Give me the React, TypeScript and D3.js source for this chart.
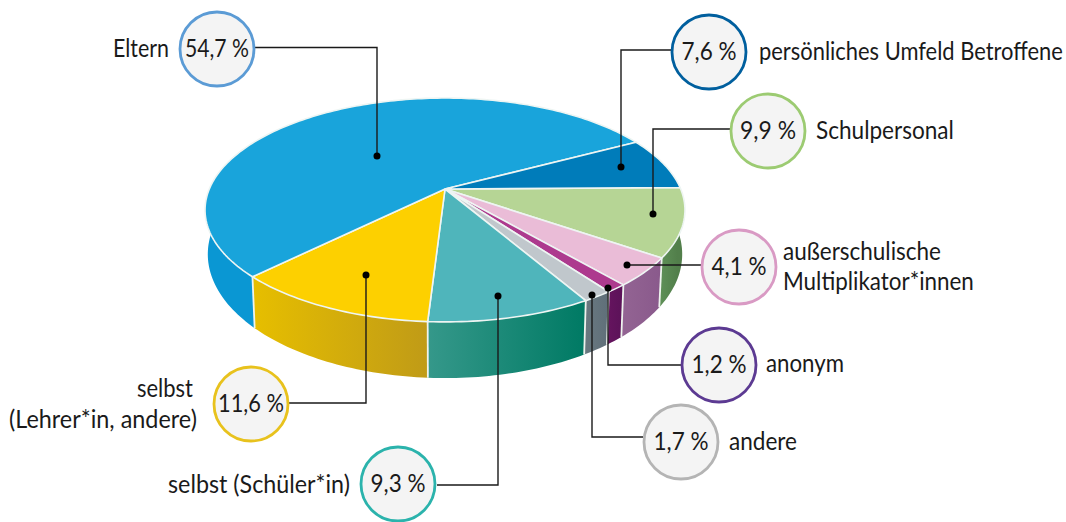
import React from 'react';
import * as d3 from 'd3';

// slices in clockwise order, first one starts at 3 o'clock
const categories = ['Schulpersonal', 'außerschulische Multiplikator*innen', 'anonym', 'andere', 'selbst (Schüler*in)', 'selbst (Lehrer*in, andere)', 'Eltern', 'persönliches Umfeld Betroffene'];
const shares = [9.9, 4.1, 1.2, 1.7, 9.3, 11.6, 54.7, 7.6];
const topColors = ['#b6d595', '#eabcd7', '#ad3a8e', '#c0c7cc', '#4fb5bb', '#fdd000', '#19a4db', '#007cba'];
const sideFrom = ['#5f9158', '#936493', '#66145f', '#6a7980', '#35988a', '#e6be00', '#0a97d3', '#0a97d3'];
const sideTo = ['#527f4b', '#8a5a8c', '#5c1259', '#60707a', '#007a64', '#c09b17', '#0a97d3', '#0a97d3'];

// callout layout, same order as above
const callouts = [
  { ring: '#9ccb72', cx: 768, cy: 131, tw: 56, path: [[730, 129], [653, 129], [653, 214]], labels: [{ t: 'Schulpersonal', x: 816, y: 139, w: 138 }] },
  { ring: '#d99ac4', cx: 739, cy: 267, tw: 55, path: [[702, 265], [627, 265]], labels: [{ t: 'außerschulische', x: 783, y: 260, w: 158 }, { t: 'Multiplikator*innen', x: 783, y: 290, w: 191 }] },
  { ring: '#5c3a92', cx: 719, cy: 365, tw: 55, path: [[681, 365], [608, 365], [608, 288]], labels: [{ t: 'anonym', x: 766, y: 372, w: 78 }] },
  { ring: '#b4b4b4', cx: 681, cy: 442, tw: 55, path: [[643, 437], [592, 437], [592, 295]], labels: [{ t: 'andere', x: 729, y: 450, w: 68 }] },
  { ring: '#2bb3ac', cx: 398, cy: 484, tw: 55, path: [[437, 485], [498, 485], [498, 296]], labels: [{ t: 'selbst (Schüler*in)', x: 168, y: 493, w: 182 }] },
  { ring: '#e8c21d', cx: 251, cy: 404, tw: 66, path: [[289, 403], [366, 403], [366, 275]], labels: [{ t: 'selbst', x: 137, y: 397, w: 56 }, { t: '(Lehrer*in, andere)', x: 9, y: 428, w: 188 }] },
  { ring: '#5b9bd5', cx: 217, cy: 49, tw: 64, path: [[255, 47.5], [377, 47.5], [377, 156]], labels: [{ t: 'Eltern', x: 113, y: 57, w: 56 }] },
  { ring: '#005f9e', cx: 709, cy: 52, tw: 55, path: [[671, 50], [621, 50], [621, 167]], labels: [{ t: 'persönliches Umfeld Betroffene', x: 759, y: 60, w: 304 }] },
];

// perspective view of the disc: the hub sits above the middle of the ellipse
const cx = 445;
const tilt = -0.1875;
const topFace = { a: 235.7, b: 108, y: 189 };
const lowFace = { a: 233, b: 119.5, y: 231 };
const startShift = (-0.8 * Math.PI) / 180;
const fontSize = 24.5;
const font = 'Lato, sans-serif';

const project = (theta: number, f: typeof topFace): [number, number] => {
  const w = 1 + tilt * Math.sin(theta);
  return [cx + (f.a * Math.cos(theta)) / w, f.y + (f.b * Math.sin(theta)) / w];
};

const arcPoints = (a0: number, a1: number, f: typeof topFace) => {
  const n = Math.max(2, Math.ceil(Math.abs(a1 - a0) / 0.02));
  return d3.range(n + 1).map(i => project(a0 + ((a1 - a0) * i) / n, f));
};

const line = d3.line();

// the reference type is condensed, so squeeze Lato to the measured width
const ctx = document.createElement('canvas').getContext('2d') as CanvasRenderingContext2D;
ctx.font = `${fontSize}px ${font}`;
const squeeze = (t: string, w: number) => w / ctx.measureText(t).width;

function Label({ t, x, y, w, anchor }: { t: string; x: number; y: number; w: number; anchor?: string }) {
  return (
    <text transform={`translate(${x},${y}) scale(${squeeze(t, w)},1)`} textAnchor={anchor} fontSize={fontSize} fill="#1a1a1a">
      {t}
    </text>
  );
}

export default function App() {
  // d3 angles run from 12 o'clock, theta from 3 o'clock
  const start = Math.PI / 2 + startShift;
  const slices = d3.pie<number>().sort(null).startAngle(start).endAngle(start + 2 * Math.PI)(shares);
  const span = slices.map(s => ({ a0: s.startAngle - Math.PI / 2, a1: s.endAngle - Math.PI / 2 }));

  return (
    <svg width={1066} height={522} style={{ position: 'absolute', left: 0, top: 0 }} fontFamily={font}>
      <defs>
        {span.map((s, i) => (
          <linearGradient key={i} id={`side${i}`} gradientUnits="userSpaceOnUse"
            x1={project(Math.min(s.a1, Math.PI), lowFace)[0]} x2={project(s.a0, lowFace)[0]} y1={0} y2={0}>
            <stop offset="0" stopColor={sideFrom[i]} />
            <stop offset="1" stopColor={sideTo[i]} />
          </linearGradient>
        ))}
      </defs>

      {/* front wall */}
      {span.map((s, i) => {
        if (s.a0 >= Math.PI) return null;
        const end = Math.min(s.a1, Math.PI);
        const pts = [...arcPoints(s.a0, end, topFace), ...arcPoints(end, s.a0, lowFace)];
        return <path key={i} d={line(pts) + 'Z'} fill={`url(#side${i})`} />;
      })}
      {span.filter(s => s.a0 > 0.05 && s.a0 < Math.PI).map((s, i) => {
        const [x1, y1] = project(s.a0, topFace);
        const [x2, y2] = project(s.a0, lowFace);
        return <line key={i} x1={x1} y1={y1} x2={x2} y2={y2} stroke="#eef3ee" strokeWidth={1.8} />;
      })}

      {/* top face */}
      {span.map((s, i) => {
        const pts = [[cx, topFace.y] as [number, number], ...arcPoints(s.a0, s.a1, topFace)];
        return <path key={categories[i]} d={line(pts) + 'Z'} fill={topColors[i]} stroke="#eef5f3" strokeWidth={1.6} strokeLinejoin="round" />;
      })}

      {/* callouts */}
      {callouts.map((c, i) => {
        const end = c.path[c.path.length - 1];
        return (
          <g key={i}>
            <path d={line(c.path as [number, number][]) as string} fill="none" stroke="#1a1a1a" strokeWidth={1.4} />
            <circle cx={end[0]} cy={end[1]} r={3.5} fill="#000" />
            <circle cx={c.cx} cy={c.cy} r={37} fill="#f4f4f4" stroke={c.ring} strokeWidth={2.8} />
            <Label t={`${shares[i].toFixed(1).replace('.', ',')} %`} x={c.cx} y={c.cy + 8} w={c.tw} anchor="middle" />
            {c.labels.map(l => (
              <Label key={l.t} t={l.t} x={l.x} y={l.y} w={l.w} />
            ))}
          </g>
        );
      })}
    </svg>
  );
}
